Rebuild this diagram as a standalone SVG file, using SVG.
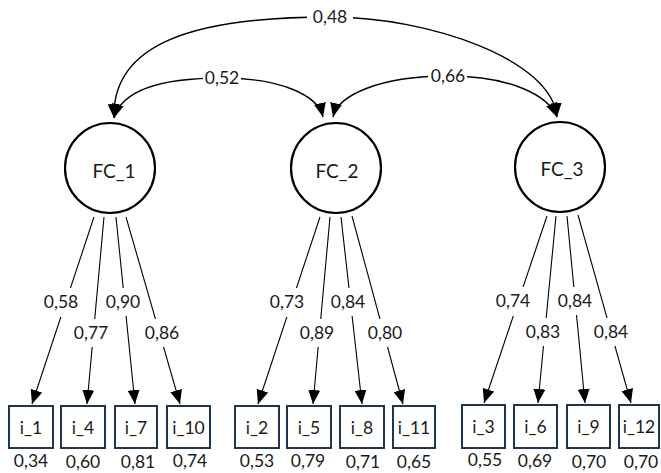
<svg xmlns="http://www.w3.org/2000/svg" width="661" height="473" viewBox="0 0 661 473">
<defs>
<marker id="arr" markerUnits="userSpaceOnUse" markerWidth="14" markerHeight="12" refX="14" refY="6" orient="auto-start-reverse">
<path d="M0,0 L14,6 L0,12 z" fill="#000"/>
</marker>
<style>
text{font-family:Lato,"Open Sans","Liberation Sans",sans-serif;fill:#1a1a1a;text-anchor:middle}
.lat{fill:#fff;stroke:#000;stroke-width:2.2}
.obs{fill:#fff;stroke:#1f3550;stroke-width:2}
.nl{font-size:19px}
.bl{font-size:17.5px}
.el{font-size:17.5px}
.cov{fill:none;stroke:#000;stroke-width:1.4;marker-end:url(#arr);marker-start:url(#arr)}
.ld{fill:none;stroke:#000;stroke-width:1.1;marker-end:url(#arr)}
.bg{fill:#fff}
</style>
</defs>
<rect width="661" height="473" fill="#fff"/>
<g id="connectors">
<path class="cov" d="M114,118 C112,45 190,17 330,17 C430,17 552,60 557,117"/>
<path class="cov" d="M114,118 C122,90 160,78 222,78 C280,78 318,95 323,117"/>
<path class="cov" d="M333,117 C338,95 380,76 448,76 C510,76 548,95 557,117"/>
<rect class="bg" x="307" y="6" width="46" height="22"/>
<rect class="bg" x="203" y="67" width="38" height="22"/>
<rect class="bg" x="428" y="65" width="39" height="22"/>
<text class="el" x="330" y="23">0,48</text>
<text class="el" x="222" y="84">0,52</text>
<text class="el" x="448" y="82">0,66</text>
<path class="ld" d="M94,217 L32,404"/>
<path class="ld" d="M104,217 L87,404"/>
<path class="ld" d="M116,217 L135,404"/>
<path class="ld" d="M126,217 L180,404"/>
<path class="ld" d="M320,217 L258,404"/>
<path class="ld" d="M330,217 L313,404"/>
<path class="ld" d="M341,217 L362,404"/>
<path class="ld" d="M352,216 L403,404"/>
<path class="ld" d="M547,216 L484,403"/>
<path class="ld" d="M556,216 L538,403"/>
<path class="ld" d="M567,216 L585,403"/>
<path class="ld" d="M578,215 L631,403"/>
<g class="bg">
<rect x="44" y="288" width="35" height="29"/>
<rect x="74" y="319" width="35" height="28"/>
<rect x="106" y="288" width="35" height="28"/>
<rect x="145" y="319" width="35" height="28"/>
<rect x="270" y="288" width="35" height="29"/>
<rect x="300" y="319" width="35" height="28"/>
<rect x="331" y="288" width="35" height="28"/>
<rect x="368" y="319" width="35" height="28"/>
<rect x="496" y="287" width="35" height="29"/>
<rect x="526" y="318" width="35" height="28"/>
<rect x="558" y="287" width="35" height="28"/>
<rect x="594" y="318" width="35" height="28"/>
</g>
<text class="el" x="61" y="308">0,58</text>
<text class="el" x="91" y="339">0,77</text>
<text class="el" x="123" y="308">0,90</text>
<text class="el" x="162" y="339">0,86</text>
<text class="el" x="287" y="308">0,73</text>
<text class="el" x="317" y="339">0,89</text>
<text class="el" x="348" y="308">0,84</text>
<text class="el" x="385" y="339">0,80</text>
<text class="el" x="513" y="307">0,74</text>
<text class="el" x="543" y="338">0,83</text>
<text class="el" x="575" y="307">0,84</text>
<text class="el" x="611" y="338">0,84</text>
</g>
<g id="FC_1"><circle class="lat" cx="110" cy="168" r="45"/><text class="nl" x="114" y="178">FC_1</text></g>
<g id="FC_2"><circle class="lat" cx="336" cy="168" r="45"/><text class="nl" x="337" y="178">FC_2</text></g>
<g id="FC_3"><circle class="lat" cx="560" cy="167" r="45"/><text class="nl" x="562" y="176">FC_3</text></g>
<g id="i_1"><rect class="obs" x="9" y="406" width="44" height="42"/><text class="bl" x="31" y="434">i_1</text><text class="bl" x="31" y="467">0,34</text></g>
<g id="i_4"><rect class="obs" x="61" y="406" width="44" height="42"/><text class="bl" x="83" y="434">i_4</text><text class="bl" x="83" y="468">0,60</text></g>
<g id="i_7"><rect class="obs" x="115" y="406" width="42" height="42"/><text class="bl" x="136" y="434">i_7</text><text class="bl" x="138" y="468">0,81</text></g>
<g id="i_10"><rect class="obs" x="167" y="406" width="43" height="42"/><text class="bl" x="188.5" y="434">i_10</text><text class="bl" x="190" y="467">0,74</text></g>
<g id="i_2"><rect class="obs" x="235" y="406" width="44" height="42"/><text class="bl" x="257" y="434">i_2</text><text class="bl" x="257" y="467">0,53</text></g>
<g id="i_5"><rect class="obs" x="287" y="406" width="44" height="42"/><text class="bl" x="309" y="434">i_5</text><text class="bl" x="308" y="467">0,79</text></g>
<g id="i_8"><rect class="obs" x="340" y="406" width="44" height="42"/><text class="bl" x="362" y="434">i_8</text><text class="bl" x="363" y="468">0,71</text></g>
<g id="i_11"><rect class="obs" x="393" y="406" width="42" height="42"/><text class="bl" x="414" y="434">i_11</text><text class="bl" x="414" y="468">0,65</text></g>
<g id="i_3"><rect class="obs" x="462" y="405" width="43" height="43"/><text class="bl" x="483.5" y="433">i_3</text><text class="bl" x="485" y="466">0,55</text></g>
<g id="i_6"><rect class="obs" x="514" y="405" width="43" height="43"/><text class="bl" x="535.5" y="433">i_6</text><text class="bl" x="535" y="467">0,69</text></g>
<g id="i_9"><rect class="obs" x="567" y="405" width="43" height="43"/><text class="bl" x="588.5" y="433">i_9</text><text class="bl" x="589" y="468">0,70</text></g>
<g id="i_12"><rect class="obs" x="619" y="405" width="40" height="43"/><text class="bl" x="639" y="433">i_12</text><text class="bl" x="641" y="468">0,70</text></g>
</svg>
